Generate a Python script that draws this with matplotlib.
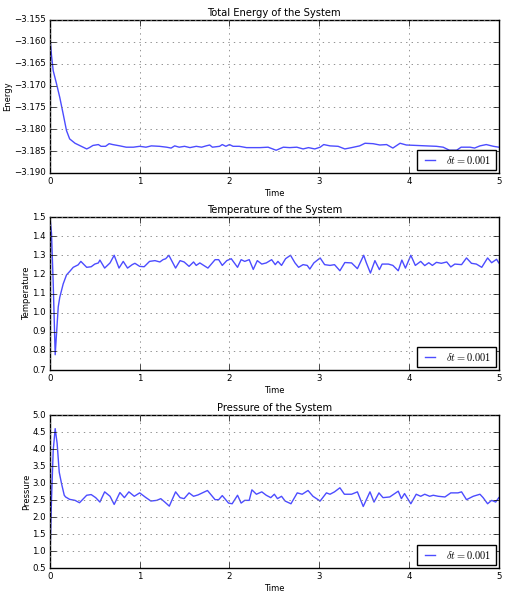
import numpy as np
import matplotlib
matplotlib.use('Agg')
import matplotlib.pyplot as plt

plt.style.use('classic')

# values
time_E = [0, 0.018, 0.037, 0.074, 0.11, 0.148, 0.185, 0.22, 0.28, 0.33,
          0.41, 0.44, 0.48, 0.54, 0.57, 0.62, 0.66, 0.70, 0.78, 0.85,
          0.93, 1.0, 1.07, 1.13, 1.22, 1.30, 1.35, 1.39, 1.44, 1.5,
          1.56, 1.63, 1.69, 1.74, 1.78, 1.81, 1.89, 1.92, 1.96, 2.0,
          2.04, 2.11, 2.19, 2.26, 2.34, 2.43, 2.52, 2.60, 2.67, 2.75,
          2.82, 2.88, 2.95, 3.01, 3.05, 3.12, 3.21, 3.285, 3.36, 3.45,
          3.51, 3.60, 3.675, 3.75, 3.82, 3.90, 3.97, 4.08, 4.19, 4.305,
          4.38, 4.45, 4.53, 4.58, 4.68, 4.73, 4.79, 4.86, 4.94, 5.0]
energy = [-3.1588, -3.1631, -3.1666, -3.1696, -3.1727, -3.1765, -3.1803, -3.1822, -3.1832, -3.1837,
          -3.1845, -3.1842, -3.1837, -3.1835, -3.1839, -3.1839, -3.1833, -3.1835, -3.1838, -3.1841,
          -3.1841, -3.1839, -3.1841, -3.1838, -3.1839, -3.1841, -3.1843, -3.1838, -3.1841, -3.1839,
          -3.1842, -3.1839, -3.1841, -3.1838, -3.1836, -3.1841, -3.1839, -3.1835, -3.1839, -3.1835,
          -3.1839, -3.1839, -3.1842, -3.1842, -3.1842, -3.1841, -3.1848, -3.1841, -3.1842, -3.1841,
          -3.1845, -3.1842, -3.1845, -3.1841, -3.1835, -3.1838, -3.1839, -3.1845, -3.1842, -3.1838,
          -3.1832, -3.1833, -3.1836, -3.1835, -3.1843, -3.1832, -3.1836, -3.1837, -3.1838, -3.1839,
          -3.1841, -3.1848, -3.1848, -3.1841, -3.1841, -3.1843, -3.1838, -3.1835, -3.1839, -3.1841]

time_T = [0, 0.018, 0.037, 0.059, 0.074, 0.093, 0.11, 0.148, 0.185, 0.22,
          0.26, 0.315, 0.345, 0.41, 0.46, 0.50, 0.54, 0.557, 0.61, 0.67,
          0.716, 0.77, 0.817, 0.865, 0.917, 0.947, 1.0, 1.05, 1.11, 1.17,
          1.225, 1.26, 1.29, 1.325, 1.40, 1.45, 1.495, 1.55, 1.60, 1.63,
          1.67, 1.76, 1.84, 1.88, 1.92, 1.97, 2.02, 2.09, 2.13, 2.17,
          2.22, 2.265, 2.31, 2.36, 2.41, 2.47, 2.51, 2.54, 2.58, 2.625,
          2.68, 2.73, 2.77, 2.82, 2.866, 2.895, 2.94, 3.01, 3.06, 3.12,
          3.17, 3.23, 3.285, 3.36, 3.425, 3.495, 3.525, 3.57, 3.62, 3.67,
          3.70, 3.77, 3.82, 3.88, 3.92, 3.96, 4.02, 4.07, 4.13, 4.175,
          4.22, 4.26, 4.305, 4.36, 4.42, 4.465, 4.51, 4.585, 4.64, 4.695,
          4.75, 4.81, 4.875, 4.92, 4.975, 5.0]
temperature = [1.50, 1.416, 1.154, 0.78, 0.89, 1.03, 1.08, 1.15, 1.197, 1.215,
               1.237, 1.25, 1.268, 1.237, 1.24, 1.254, 1.26, 1.275, 1.233, 1.26,
               1.30, 1.233, 1.268, 1.233, 1.251, 1.258, 1.242, 1.24, 1.268, 1.272,
               1.265, 1.277, 1.282, 1.30, 1.233, 1.272, 1.265, 1.242, 1.265, 1.247,
               1.26, 1.233, 1.277, 1.277, 1.247, 1.272, 1.282, 1.237, 1.277, 1.268,
               1.277, 1.226, 1.272, 1.254, 1.26, 1.277, 1.251, 1.268, 1.247, 1.282,
               1.30, 1.26, 1.237, 1.251, 1.247, 1.228, 1.26, 1.286, 1.251, 1.247,
               1.251, 1.219, 1.262, 1.26, 1.23, 1.30, 1.26, 1.207, 1.272, 1.225,
               1.254, 1.254, 1.247, 1.219, 1.275, 1.233, 1.30, 1.247, 1.268, 1.246,
               1.261, 1.247, 1.263, 1.258, 1.265, 1.239, 1.254, 1.251, 1.286, 1.258,
               1.254, 1.237, 1.286, 1.261, 1.279, 1.26]

time_P = [0, 0.018, 0.037, 0.059, 0.081, 0.104, 0.13, 0.16, 0.175, 0.22,
          0.28, 0.33, 0.41, 0.46, 0.51, 0.557, 0.61, 0.67, 0.716, 0.78,
          0.83, 0.88, 0.94, 1.0, 1.06, 1.125, 1.19, 1.235, 1.28, 1.33,
          1.40, 1.45, 1.495, 1.55, 1.60, 1.65, 1.755, 1.84, 1.88, 1.92,
          1.99, 2.03, 2.09, 2.13, 2.17, 2.22, 2.25, 2.30, 2.36, 2.41,
          2.46, 2.50, 2.535, 2.58, 2.62, 2.685, 2.755, 2.81, 2.875, 2.93,
          3.01, 3.08, 3.12, 3.17, 3.23, 3.28, 3.36, 3.425, 3.49, 3.565,
          3.61, 3.665, 3.71, 3.785, 3.88, 3.915, 3.95, 4.02, 4.08, 4.13,
          4.175, 4.23, 4.27, 4.325, 4.40, 4.465, 4.545, 4.585, 4.64, 4.715,
          4.79, 4.825, 4.875, 4.92, 4.965, 5.0]
pressure = [0.73, 2.5, 3.96, 4.6, 4.16, 3.32, 2.98, 2.64, 2.59, 2.52,
            2.49, 2.42, 2.64, 2.66, 2.57, 2.44, 2.74, 2.61, 2.37, 2.72,
            2.57, 2.74, 2.61, 2.71, 2.59, 2.47, 2.49, 2.54, 2.44, 2.32,
            2.74, 2.57, 2.54, 2.71, 2.61, 2.65, 2.78, 2.51, 2.51, 2.63,
            2.41, 2.39, 2.64, 2.41, 2.49, 2.49, 2.80, 2.67, 2.74, 2.64,
            2.57, 2.67, 2.54, 2.61, 2.47, 2.39, 2.71, 2.67, 2.78, 2.61,
            2.47, 2.71, 2.67, 2.74, 2.86, 2.67, 2.67, 2.74, 2.31, 2.74,
            2.44, 2.71, 2.57, 2.59, 2.76, 2.54, 2.69, 2.39, 2.67, 2.61,
            2.67, 2.61, 2.64, 2.61, 2.59, 2.71, 2.71, 2.74, 2.51, 2.61,
            2.67, 2.57, 2.39, 2.49, 2.44, 2.57]

titles = ['Total Energy of the System', 'Temperature of the System', 'Pressure of the System']
ylabels = ['Energy', 'Temperature', 'Pressure']
label = r'$\delta t = 0.001$'

fig = plt.figure(figsize=(5.09, 6.0), dpi=100, facecolor='white')
boxes = [[0.098, 0.7117, 0.882, 0.255],
         [0.098, 0.3833, 0.882, 0.255],
         [0.098, 0.0533, 0.882, 0.255]]
series = [(time_E, energy), (time_T, temperature), (time_P, pressure)]
ylims = [(-3.19, -3.155), (0.7, 1.5), (0.5, 5.0)]
yticks = [np.arange(-3.19, -3.1549, 0.005), np.arange(0.7, 1.501, 0.1), np.arange(0.5, 5.01, 0.5)]

for i in range(3):
    ax = fig.add_axes(boxes[i])
    t, v = series[i]
    ax.plot(t, v, color='b', alpha=0.7, lw=1, label=label)
    ax.set_xlim(0, 5)
    ax.set_ylim(*ylims[i])
    ax.set_yticks(yticks[i])
    ax.set_xticks(range(6))
    ax.ticklabel_format(axis='y', useOffset=False)
    ax.tick_params(labelsize=6.2, pad=3)
    ax.grid(True, color='0.5', linestyle=':', lw=0.6)
    ax.set_title(titles[i], fontsize=7.2, pad=3)
    ax.set_xlabel('Time', fontsize=6, labelpad=2)
    ax.set_ylabel(ylabels[i], fontsize=6, labelpad=1)
    ax.legend(loc='lower right', fontsize=7.5, handlelength=1.6, borderaxespad=0.3)

plt.savefig('out.png', dpi=100, facecolor='white')
